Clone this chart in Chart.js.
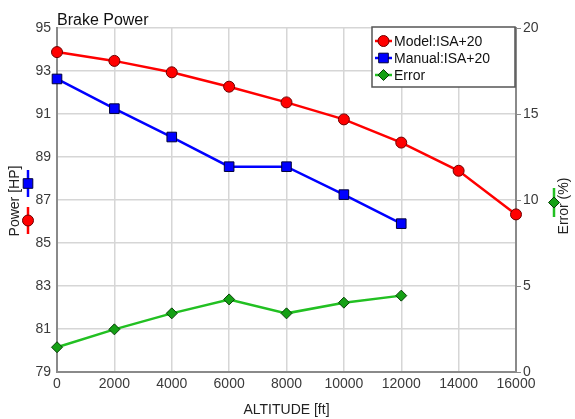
<!DOCTYPE html>
<html>
<head>
<meta charset="utf-8">
<script src="https://cdn.jsdelivr.net/npm/chart.js@4/dist/chart.umd.min.js"></script>
<style>
  html, body { margin: 0; padding: 0; background: #fff; }
  #wrap { width: 575px; height: 419px; }
</style>
</head>
<body>
<div id="wrap"><canvas id="chartPower" width="575" height="419"></canvas></div>
<script>
// altitude in ft
const altitudes = [0, 2000, 4000, 6000, 8000, 10000, 12000, 14000, 16000];
// power in HP
const modelPower = [93.88, 93.47, 92.94, 92.27, 91.54, 90.75, 89.67, 88.36, 86.33];
const manualPower = [92.63, 91.25, 89.93, 88.55, 88.55, 87.25, 85.9];
// relative error in %
const errorPct = [1.44, 2.48, 3.41, 4.22, 3.41, 4.03, 4.44];

const seriesLabels = ['Model:ISA+20', 'Manual:ISA+20', 'Error'];

(function () {
  const font = "'Liberation Sans', Arial, sans-serif";
  const axisGray = '#8a8a8a';
  const gridGray = '#d6d6d6';
  const tickText = '#3a3a3a';

  const toXY = (vals) => vals.map((v, i) => ({ x: altitudes[i], y: v }));

  const styles = [
    { line: '#ff0000', fill: '#ff0000', edge: '#6e0000', shape: 'circle', r: 5.5 },
    { line: '#0000ff', fill: '#0000ff', edge: '#00003a', shape: 'rect', r: 6.8 },
    { line: '#22c022', fill: '#15a015', edge: '#064006', shape: 'rectRot', r: 5.5 },
  ];

  function marker(ctx, s, x, y) {
    ctx.save();
    ctx.fillStyle = s.fill;
    ctx.strokeStyle = s.edge;
    ctx.lineWidth = 1;
    Chart.helpers.drawPoint(ctx, { pointStyle: s.shape, radius: s.r, rotation: 0, borderWidth: 1 }, x, y);
    ctx.restore();
  }

  function seg(ctx, color, x1, y1, x2, y2) {
    ctx.save();
    ctx.strokeStyle = color;
    ctx.lineWidth = 2.5;
    ctx.beginPath();
    ctx.moveTo(x1, y1);
    ctx.lineTo(x2, y2);
    ctx.stroke();
    ctx.restore();
  }

  // title, boxed legend and the axis captions with their series markers
  const decorations = {
    id: 'decorations',
    afterDraw(chart) {
      const ctx = chart.ctx;
      const area = chart.chartArea;

      ctx.save();
      ctx.fillStyle = '#111';
      ctx.font = '16px ' + font;
      ctx.textBaseline = 'alphabetic';
      ctx.textAlign = 'left';
      ctx.fillText('Brake Power', area.left, area.top - 3);
      ctx.restore();

      // legend
      const bx = 372, by = 27, bw = 143, bh = 60;
      ctx.save();
      ctx.fillStyle = '#fff';
      ctx.fillRect(bx, by, bw, bh);
      ctx.strokeStyle = '#555';
      ctx.lineWidth = 1.5;
      ctx.strokeRect(bx, by, bw, bh);
      ctx.restore();
      seriesLabels.forEach((label, i) => {
        const y = by + 14 + i * 17;
        seg(ctx, styles[i].line, bx + 3, y, bx + 20, y);
        marker(ctx, styles[i], bx + 11.5, y);
        ctx.save();
        ctx.fillStyle = '#111';
        ctx.font = '14px ' + font;
        ctx.textBaseline = 'middle';
        ctx.fillText(label, bx + 22, y + 1);
        ctx.restore();
      });

      // left caption
      ctx.save();
      ctx.translate(15, 201);
      ctx.rotate(-Math.PI / 2);
      ctx.fillStyle = '#222';
      ctx.font = '14px ' + font;
      ctx.textAlign = 'center';
      ctx.textBaseline = 'middle';
      ctx.fillText('Power [HP]', 0, 0);
      ctx.restore();
      seg(ctx, styles[1].line, 28, 170, 28, 197);
      marker(ctx, styles[1], 28, 183.5);
      seg(ctx, styles[0].line, 28, 207, 28, 234);
      marker(ctx, styles[0], 28, 220.5);

      // right caption
      ctx.save();
      ctx.translate(564, 206);
      ctx.rotate(-Math.PI / 2);
      ctx.fillStyle = '#222';
      ctx.font = '14px ' + font;
      ctx.textAlign = 'center';
      ctx.textBaseline = 'middle';
      ctx.fillText('Error (%)', 0, 0);
      ctx.restore();
      seg(ctx, styles[2].line, 554, 188, 554, 217);
      marker(ctx, styles[2], 554, 202.5);
    },
  };

  new Chart(document.getElementById('chartPower'), {
    type: 'line',
    data: {
      datasets: [modelPower, manualPower, errorPct].map((vals, i) => ({
        label: seriesLabels[i],
        data: toXY(vals),
        yAxisID: i === 2 ? 'y2' : 'y',
        borderColor: styles[i].line,
        borderWidth: 2.5,
        pointStyle: styles[i].shape,
        pointRadius: styles[i].r,
        pointBackgroundColor: styles[i].fill,
        pointBorderColor: styles[i].edge,
        pointBorderWidth: 1,
        tension: 0,
        clip: false,
      })),
    },
    options: {
      responsive: false,
      animation: false,
      layout: { padding: { top: 28, left: 0, right: 0, bottom: 0 } },
      plugins: { legend: { display: false }, tooltip: { enabled: false }, title: { display: false } },
      scales: {
        x: {
          type: 'linear',
          min: 0,
          max: 16000,
          afterFit: (s) => { s.height = 47; },
          ticks: {
            stepSize: 2000,
            color: tickText,
            font: { family: font, size: 14 },
            padding: 4,
            maxRotation: 0,
            callback: (v) => String(v),
          },
          grid: { color: gridGray, lineWidth: 1.5, drawTicks: false },
          border: { color: axisGray, width: 2 },
          title: { display: true, text: 'ALTITUDE [ft]', color: '#222', font: { family: font, size: 14 }, padding: { top: 6, bottom: 0 } },
        },
        y: {
          position: 'left',
          min: 79,
          max: 95,
          afterFit: (s) => { s.width = 57; },
          ticks: { stepSize: 2, color: tickText, font: { family: font, size: 14 }, padding: 6 },
          grid: { color: gridGray, lineWidth: 1.5, drawTicks: false },
          border: { color: axisGray, width: 2 },
        },
        y2: {
          position: 'right',
          min: 0,
          max: 20,
          afterFit: (s) => { s.width = 59; },
          ticks: { stepSize: 5, color: tickText, font: { family: font, size: 14 }, padding: 2 },
          grid: { drawOnChartArea: false, color: axisGray, tickLength: 5, lineWidth: 1 },
          border: { color: axisGray, width: 2 },
        },
      },
    },
    plugins: [decorations],
  });
})();
</script>
</body>
</html>
